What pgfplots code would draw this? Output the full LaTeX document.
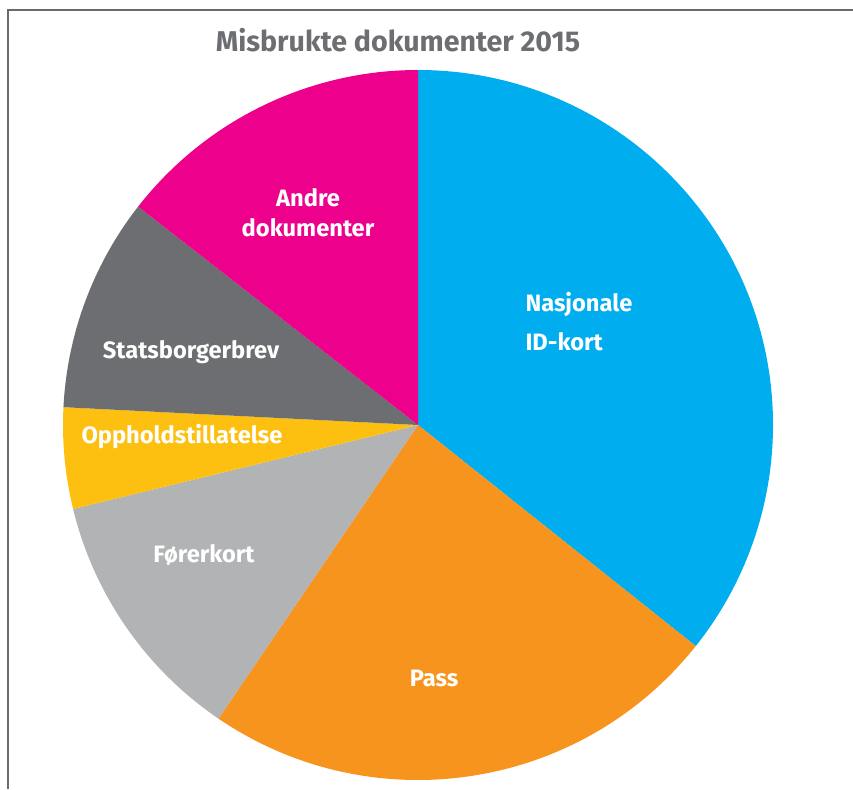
\documentclass[border=0pt]{standalone}
\usepackage{pgfplots}
\usepackage{pgfplotstable}
\pgfplotsset{compat=1.18}
\usepackage{fontspec}
\setmainfont{Fira Sans}
\definecolor{slice0}{HTML}{00AEEF}
\definecolor{slice1}{HTML}{F7941D}
\definecolor{slice2}{HTML}{B2B3B5}
\definecolor{slice3}{HTML}{FDC010}
\definecolor{slice4}{HTML}{6D6E71}
\definecolor{slice5}{HTML}{EC008C}
\definecolor{titlegray}{HTML}{6D6E71}
\definecolor{framegray}{HTML}{6A6A6A}
% shares in percent, clockwise from the top
\pgfplotstableread{
id value
0 35.7
1 23.8
2 11.7
3 4.6
4 9.75
5 14.45
}\piedata
\begin{document}
\xdef\cum{90}%
\pgfplotsforeachungrouped \i in {0,...,5}{%
  \pgfplotstablegetelem{\i}{value}\of\piedata
  \pgfmathsetmacro\nxt{\cum-3.6*\pgfplotsretval}%
  \expandafter\xdef\csname start\i\endcsname{\cum}%
  \expandafter\xdef\csname end\i\endcsname{\nxt}%
  \xdef\cum{\nxt}%
}%
\begin{tikzpicture}[x=1pt,y=-1pt]
\useasboundingbox (0,0) rectangle (853,789);
\draw[framegray, line width=1.5pt] (8,789) -- (8,10) -- (853,10);
\begin{axis}[at={(418pt,-425pt)}, anchor=origin, x=355pt, y=355pt,
  xmin=-1, xmax=1, ymin=-1, ymax=1, hide axis, clip=false]
\pgfplotsinvokeforeach{0,...,5}{%
  \fill[slice#1] (0,0) -- ({cos(\csname start#1\endcsname)},{sin(\csname start#1\endcsname)})
    arc[start angle=\csname start#1\endcsname, end angle=\csname end#1\endcsname, radius=355pt] -- cycle;
}
\end{axis}
\node[titlegray, font=\fontsize{28.6}{32}\selectfont\bfseries] at (398,40) {Misbrukte dokumenter 2015};
\begin{scope}[every node/.style={white, font=\fontsize{23.7}{39}\selectfont\bfseries}]
\node[anchor=west, align=left] at (522,322) {Nasjonale\\ID-kort};
\node[align=center, font=\fontsize{23.7}{30}\selectfont\bfseries] at (308,213) {Andre\\dokumenter};
\node at (191,352) {Statsborgerbrev};
\node at (182,437) {Oppholdstillatelse};
\node at (204,555) {Førerkort};
\node at (434,678) {Pass};
\end{scope}
\end{tikzpicture}
\end{document}
